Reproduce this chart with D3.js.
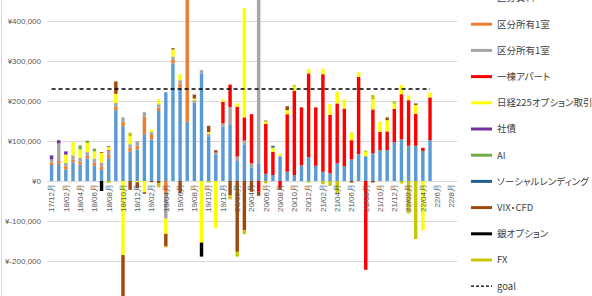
<!DOCTYPE html>
<html>
<head>
<meta charset="utf-8">
<script src="https://cdn.jsdelivr.net/npm/d3@7"></script>
<style>
body { margin: 0; background: #fff; }
svg { display: block; font-family: "Liberation Sans", "Noto Sans CJK JP", sans-serif; }
</style>
</head>
<body>
<script>
var months = [
  "17/12月",
  "18/01月","18/02月","18/03月","18/04月","18/05月","18/06月","18/07月","18/08月","18/09月","18/10月","18/11月","18/12月",
  "19/01月","19/02月","19/03月","19/04月","19/05月","19/06月","19/07月","19/08月","19/09月","19/10月","19/11月","19/12月",
  "20/01月","20/02月","20/03月","20/04月","20/05月","20/06月","20/07月","20/08月","20/09月","20/10月","20/11月","20/12月",
  "21/01月","21/02月","21/03月","21/04月","21/05月","21/06月","21/07月","21/08月","21/09月","21/10月","21/11月","21/12月",
  "22/01月","22/02月","22/03月","22/04月","22/05月","22/6月","22/7月","22/8月"
];

var seriesNames = ["区分賃料","区分所有1室","区分所有1室","一棟アパート","日経225オプション取引","社債","AI","ソーシャルレンディング","VIX・CFD","銀オプション","FX"];
var seriesColors = ["#5B9BD5","#ED7D31","#A5A5A5","#FF0000","#FFFF00","#7030A0","#70AD47","#255E91","#9E480E","#000000","#C8C800"];

// monthly values (yen), 17/12 .. 22/8
var rent = [40000,43000,29000,47000,41000,56000,38000,28000,57000,177000,
  137000,73000,79000,117000,104000,175000,222000,294000,233000,148000,
  196000,269000,112000,65000,136000,142000,50000,90000,34000,44000,
  18000,15000,61000,23000,15000,39000,59000,38000,23000,19000,
  44000,37000,54000,67000,62000,69000,77000,77000,97000,104000,
  88000,88000,75000,102000,0,0,0];
var unitA = [6000,7000,8000,7000,8000,7000,8000,8000,8000,8000,
  11000,10000,9000,44000,11000,9000,-30000,10000,11000,320000,
  0,0,0,0,0,0,0,0,0,0,
  0,0,0,0,0,0,0,0,0,0,
  0,0,0,0,0,0,0,0,0,0,
  0,0,0,0,0,0,0];
var unitB = [8000,44000,8000,10000,9000,9000,9000,10000,10000,10000,
  11000,9000,11000,11000,8000,8000,-64000,7000,8000,0,
  6000,8000,6000,6000,8000,43000,11000,11000,10000,430000,
  0,0,2000,0,0,0,0,0,0,0,
  0,0,0,0,0,0,0,0,0,0,
  0,0,0,0,0,0,0];
var apartment = [0,0,0,0,0,0,0,0,2000,0,
  0,0,0,0,0,0,0,0,0,0,
  0,0,0,0,54000,56000,125000,58000,123000,-27000,
  125000,58000,-18000,144000,211000,145000,210000,146000,244000,146000,
  150000,144000,48000,193000,-222000,110000,46000,47000,83000,113000,
  114000,80000,8000,107000,0,0,0];
var nikkei = [0,0,21000,33000,21000,23000,19000,24000,8000,23000,
  -185000,20000,-3000,-28000,5000,13000,-38000,18000,15000,0,
  4000,-154000,4000,-118000,6000,0,8000,273000,0,0,
  6000,9000,6000,10000,10000,0,11000,0,14000,27000,
  29000,23000,17000,12000,11000,25000,25000,28000,13000,23000,
  12000,22000,-124000,12000,0,0,0];
var bonds = [10000,8000,8000,0,0,0,0,0,0,0,
  0,0,0,0,0,0,0,0,0,0,
  0,0,0,0,0,0,0,0,0,0,
  0,0,0,0,0,0,0,0,0,0,
  0,0,0,0,0,0,0,0,0,0,
  0,0,0,0,0,0,0];
var ai = [0,0,0,0,10000,6000,7000,0,0,0,
  0,0,0,0,0,0,0,0,0,0,
  0,0,0,0,0,0,0,0,0,0,
  0,3000,0,0,0,0,0,0,0,0,
  0,0,0,0,0,0,0,0,0,0,
  0,0,0,0,0,0,0];
var lending = [0,0,0,0,0,0,0,0,0,0,
  0,0,0,0,0,0,0,0,0,0,
  0,0,0,0,0,0,0,0,0,0,
  0,3000,0,0,0,0,0,0,0,0,
  0,0,0,0,0,0,0,0,0,0,
  0,0,0,0,0,0,0];
var vix = [0,0,0,0,0,0,0,2000,2000,31000,
  -140000,-22000,-15000,-4000,-3000,-5000,-31000,3000,-30000,0,
  10000,0,16000,6000,0,-35000,-177000,-123000,-27000,-10000,
  2000,0,-4000,10000,0,0,0,0,0,0,
  0,0,-4000,0,0,-4000,0,7000,0,0,
  0,4000,0,0,0,0,0];
var silver = [0,0,0,0,0,0,0,-25000,0,0,
  0,0,0,0,0,0,0,0,0,0,
  0,-35000,0,0,0,0,0,0,0,0,
  0,0,0,0,0,0,0,0,0,0,
  0,0,0,0,0,0,0,0,0,0,
  0,0,0,0,0,0,0];
var fx = [0,0,0,0,0,0,0,0,-5000,0,
  0,9000,0,0,0,-11000,-3000,0,0,0,
  0,0,-4000,0,0,-11000,-12000,-10000,0,0,
  -6000,0,0,0,4000,0,-4000,0,-8000,-12000,
  -31000,0,2000,0,3000,11000,0,0,6000,-6000,
  -81000,-145000,0,0,0,0,0];

var goal = 230000;
var goalMonths = months.slice(0, 54);
var yTicks = [-300000,-200000,-100000,0,100000,200000,300000,400000];

var seriesValues = [rent, unitA, unitB, apartment, nikkei, bonds, ai, lending, vix, silver, fx];
var keys = seriesNames.map(function(d, i) { return "s" + i; });

var rows = months.map(function(m, i) {
  var r = {month: m};
  keys.forEach(function(k, j) { r[k] = seriesValues[j][i]; });
  return r;
});

var svg = d3.select("body").append("svg")
  .attr("width", 592)
  .attr("height", 296);

var x = d3.scaleBand()
  .domain(months)
  .range([48, 455])
  .paddingInner(0.52)
  .paddingOuter(0.26);

var y = d3.scaleLinear()
  .domain([-300000, 500000])
  .range([301, -19]);

// left frame edge
svg.append("line")
  .attr("x1", 1.5).attr("x2", 1.5)
  .attr("y1", 0).attr("y2", 296)
  .attr("stroke", "#D9D9D9");

// gridlines
var grid = svg.append("g")
  .attr("transform", "translate(457,0)")
  .call(d3.axisLeft(y).tickValues(yTicks).tickSize(410).tickFormat(""));
grid.select(".domain").remove();
grid.selectAll("line").attr("stroke", "#D9D9D9");

// y labels
var yAxis = svg.append("g")
  .attr("transform", "translate(41,0)")
  .call(d3.axisLeft(y).tickValues(yTicks).tickSize(0).tickPadding(0)
    .tickFormat(function(d) { return d < 0 ? "¥-" + d3.format(",")(-d) : "¥" + d3.format(",")(d); }));
yAxis.select(".domain").remove();
yAxis.selectAll("text")
  .attr("fill", "#595959")
  .style("font-size", "8px");

// stacked bars
var stack = d3.stack().keys(keys).offset(d3.stackOffsetDiverging);
var layers = stack(rows);

svg.append("g").selectAll("g")
  .data(layers)
  .join("g")
    .attr("fill", function(d, i) { return seriesColors[i]; })
  .selectAll("rect")
  .data(function(d) { return d; })
  .join("rect")
    .attr("x", function(d) { return x(d.data.month); })
    .attr("width", x.bandwidth())
    .attr("y", function(d) { return y(Math.max(d[0], d[1])); })
    .attr("height", function(d) { return Math.abs(y(d[0]) - y(d[1])); });

// x labels, every second month
var xAxis = svg.append("g")
  .attr("transform", "translate(0," + y(0) + ")")
  .call(d3.axisBottom(x).tickValues(months.filter(function(d, i) { return i % 2 === 0; })).tickSize(0));
xAxis.select(".domain").remove();
xAxis.selectAll("text")
  .attr("transform", "rotate(-90)")
  .attr("x", -3)
  .attr("y", 0)
  .attr("dy", "0.35em")
  .style("text-anchor", "end")
  .style("font-size", "8px")
  .attr("fill", "#595959");

// goal line
var goalLine = d3.line()
  .x(function(d) { return x(d) + x.bandwidth() / 2; })
  .y(function() { return y(goal); });
svg.append("path")
  .datum(goalMonths)
  .attr("d", goalLine)
  .attr("fill", "none")
  .attr("stroke", "#000")
  .attr("stroke-width", 1.3)
  .attr("stroke-dasharray", "4,3");

// legend
var legendItems = seriesNames.map(function(n, i) { return {name: n, color: seriesColors[i], dash: false}; });
legendItems.push({name: "goal", color: "#000", dash: true});

var legend = svg.append("g").selectAll("g")
  .data(legendItems)
  .join("g")
    .attr("transform", function(d, i) { return "translate(0," + (-2 + i * 26.2) + ")"; });

legend.append("line")
  .attr("x1", 471).attr("x2", 492)
  .attr("stroke", function(d) { return d.color; })
  .attr("stroke-width", function(d) { return d.dash ? 1.2 : 3; })
  .attr("stroke-dasharray", function(d) { return d.dash ? "3,2" : null; });

legend.append("text")
  .attr("x", 497)
  .attr("dy", "0.35em")
  .attr("fill", "#404040")
  .style("font-family", "'Noto Sans CJK JP', sans-serif")
  .style("font-feature-settings", "'palt' 1")
  .style("font-size", "9.5px")
  .text(function(d) { return d.name; });
</script>
</body>
</html>
